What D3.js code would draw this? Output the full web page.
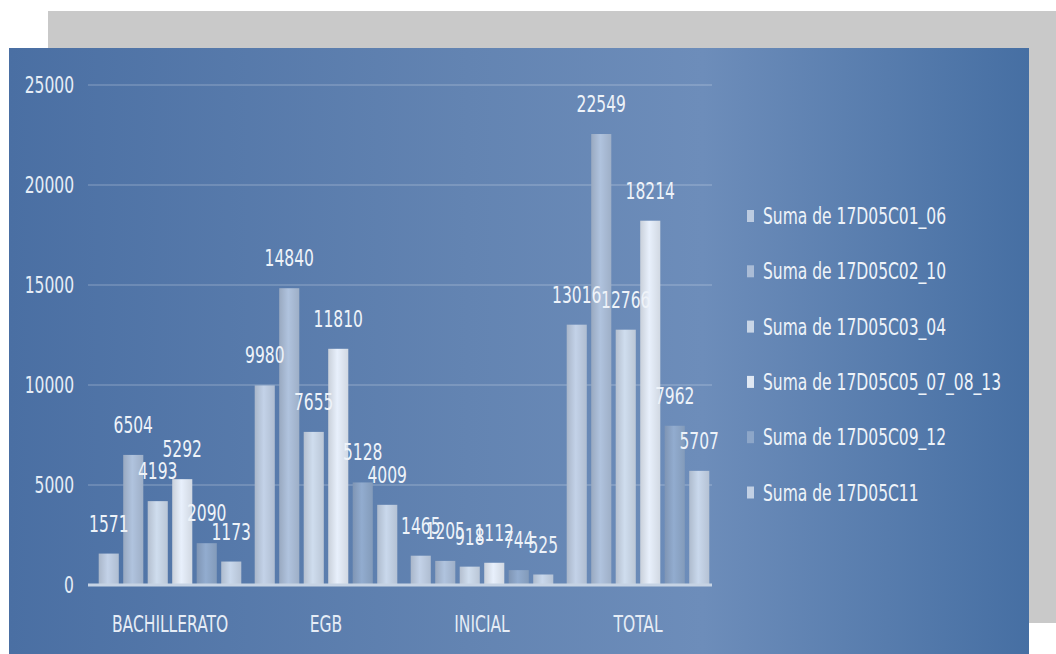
<!DOCTYPE html>
<html>
<head>
<meta charset="utf-8">
<script src="https://cdn.jsdelivr.net/npm/d3@7"></script>
<style>
  body { margin: 0; background: #fff; }
  text { font-family: "DejaVu Sans Condensed", "Liberation Sans Narrow", sans-serif; font-stretch: condensed; }
</style>
</head>
<body>
<div id="chart"></div>
<script>
const categories = ["BACHILLERATO", "EGB", "INICIAL", "TOTAL"];
const series = ["Suma de 17D05C01_06", "Suma de 17D05C02_10", "Suma de 17D05C03_04",
                "Suma de 17D05C05_07_08_13", "Suma de 17D05C09_12", "Suma de 17D05C11"];
const values = [
    [1571, 6504, 4193, 5292, 2090, 1173],
    [9980, 14840, 7655, 11810, 5128, 4009],
    [1465, 1205, 918, 1112, 744, 525],
    [13016, 22549, 12766, 18214, 7962, 5707]
];
const yTicks = [0, 5000, 10000, 15000, 20000, 25000];
const seriesColors = ["#bccbe0", "#aabcd6", "#c8d5e6", "#e0e8f3", "#8da6c8", "#c2d0e4"];

const width = 1056, height = 654;
const fs = 23;

const svg = d3.select("#chart")
    .append("svg")
    .attr("width", width)
    .attr("height", height);

const defs = svg.append("defs");

// panel background gradient
const bg = defs.append("linearGradient").attr("id", "bg")
    .attr("x1", "0%").attr("x2", "100%").attr("y1", "0%").attr("y2", "0%");
bg.append("stop").attr("offset", "0%").attr("stop-color", "#4a6fa3");
bg.append("stop").attr("offset", "45%").attr("stop-color", "#6384b2");
bg.append("stop").attr("offset", "68%").attr("stop-color", "#6d8dba");
bg.append("stop").attr("offset", "100%").attr("stop-color", "#466fa3");

seriesColors.forEach((c, i) => {
    const g = defs.append("linearGradient").attr("id", "bar" + i)
        .attr("x1", "0%").attr("x2", "100%").attr("y1", "0%").attr("y2", "0%");
    g.append("stop").attr("offset", "0%").attr("stop-color", d3.color(c).darker(0.3));
    g.append("stop").attr("offset", "45%").attr("stop-color", d3.color(c).brighter(0.1));
    g.append("stop").attr("offset", "100%").attr("stop-color", d3.color(c).darker(0.2));
});

// shadow card and panel
svg.append("rect").attr("x", 48).attr("y", 11).attr("width", 1008).attr("height", 612).attr("fill", "#c9c9c9");
svg.append("rect").attr("x", 9).attr("y", 48).attr("width", 1020).attr("height", 606).attr("fill", "url(#bg)");

const x0 = d3.scaleBand()
    .domain(categories)
    .range([92, 716])
    .paddingInner(0.086)
    .paddingOuter(0.043);

const x1 = d3.scaleBand()
    .domain(d3.range(series.length))
    .range([0, x0.bandwidth()])
    .paddingInner(0.18);

const y = d3.scaleLinear()
    .domain([0, 25000])
    .range([585, 85]);

// gridlines
svg.append("g")
    .selectAll("line")
    .data(yTicks.filter(d => d > 0))
    .enter()
    .append("line")
    .attr("x1", 88).attr("x2", 712)
    .attr("y1", d => y(d)).attr("y2", d => y(d))
    .attr("stroke", "#ffffff").attr("stroke-opacity", 0.16).attr("stroke-width", 2);

// y axis labels
const yAxis = svg.append("g")
    .attr("transform", "translate(80,0)")
    .call(d3.axisLeft(y).tickValues(yTicks).tickFormat(d3.format("d")).tickSize(0).tickPadding(6));
yAxis.select(".domain").remove();
yAxis.selectAll("text")
    .attr("fill", "#e6edf6")
    .style("font-size", fs + "px");

// bars
const groups = svg.append("g")
    .selectAll("g")
    .data(categories)
    .enter()
    .append("g")
    .attr("transform", d => `translate(${x0(d)},0)`);

groups.selectAll("rect")
    .data((c, ci) => values[ci].map((v, si) => ({ v, si })))
    .enter()
    .append("rect")
    .attr("x", d => x1(d.si))
    .attr("y", d => y(d.v))
    .attr("width", x1.bandwidth())
    .attr("height", d => y(0) - y(d.v))
    .attr("fill", d => `url(#bar${d.si})`);

groups.selectAll("text.lbl")
    .data((c, ci) => values[ci].map((v, si) => ({ v, si })))
    .enter()
    .append("text")
    .attr("class", "lbl")
    .attr("x", d => x1(d.si) + x1.bandwidth() / 2)
    .attr("y", d => y(d.v) - 22)
    .attr("text-anchor", "middle")
    .attr("fill", "#eef3f9")
    .style("font-size", fs + "px")
    .text(d => d.v);

// x axis line
svg.append("line")
    .attr("x1", 88).attr("x2", 712)
    .attr("y1", y(0)).attr("y2", y(0))
    .attr("stroke", "#c6d3e4").attr("stroke-width", 3);

const xAxis = svg.append("g")
    .attr("transform", `translate(0,${y(0)})`)
    .call(d3.axisBottom(x0).tickSize(0).tickPadding(31));
xAxis.select(".domain").remove();
xAxis.selectAll("text")
    .attr("fill", "#e6edf6")
    .style("font-size", fs + "px");

// legend
const legend = svg.append("g")
    .selectAll("g")
    .data(series)
    .enter()
    .append("g")
    .attr("transform", (d, i) => `translate(747,${216 + i * 55.3})`);

legend.append("rect")
    .attr("x", 0).attr("y", -6)
    .attr("width", 7).attr("height", 12)
    .attr("fill", (d, i) => seriesColors[i]);

legend.append("text")
    .attr("x", 16)
    .attr("y", 8)
    .attr("fill", "#eef3f9")
    .style("font-size", fs + "px")
    .text(d => d);

// squeeze all text horizontally to match the narrow face of the original
svg.selectAll("text").each(function () {
    const w = this.getComputedTextLength();
    d3.select(this)
        .attr("textLength", w * 0.75)
        .attr("lengthAdjust", "spacingAndGlyphs");
});
</script>
</body>
</html>
